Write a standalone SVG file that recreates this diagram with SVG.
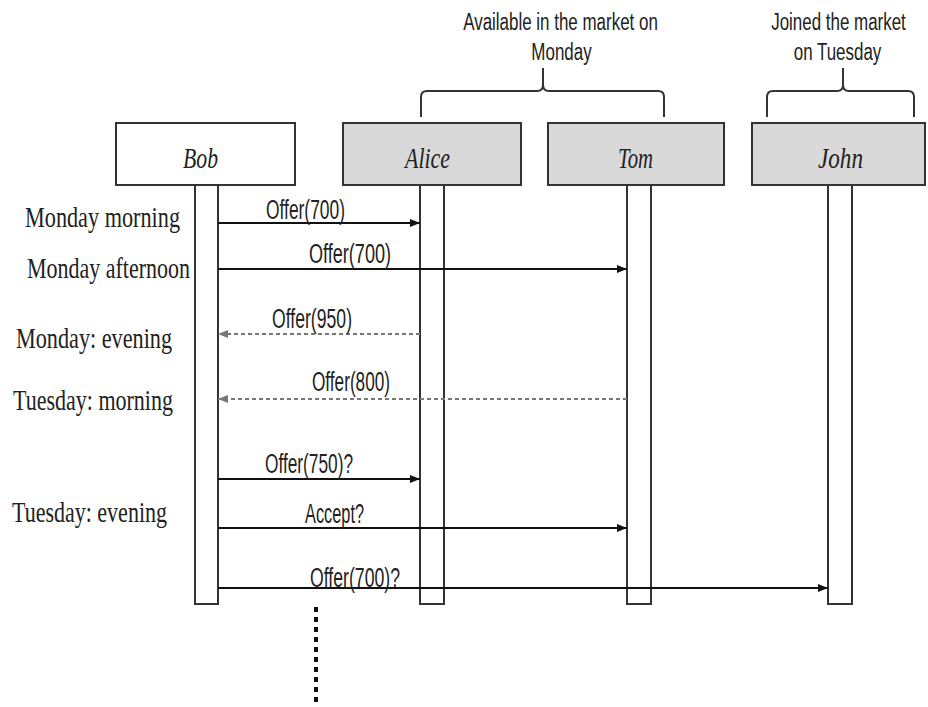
<svg xmlns="http://www.w3.org/2000/svg" width="928" height="707" viewBox="0 0 928 707">
<style>
.box{stroke:#333;stroke-width:2}
.white{fill:#fff}
.gray{fill:#d9d9d9}
.life{fill:#fff;stroke:#333;stroke-width:2}
.name{font-family:"Liberation Serif",serif;font-style:italic;font-size:29px;fill:#222}
.time{font-family:"Liberation Serif",serif;font-size:29px;fill:#222}
.msg{font-family:"Liberation Sans Narrow","Liberation Sans",sans-serif;font-size:27px;fill:#222}
.title{font-family:"Liberation Sans",sans-serif;font-size:23px;fill:#222;text-anchor:middle}
.brace{fill:none;stroke:#333;stroke-width:2}
.solid{fill:none;stroke:#111;stroke-width:2;marker-end:url(#ah)}
.dash{fill:none;stroke:#777;stroke-width:2;stroke-dasharray:4 3;marker-end:url(#ahg)}
</style>
<defs>
<marker id="ah" markerUnits="userSpaceOnUse" markerWidth="10" markerHeight="8" refX="10" refY="4" orient="auto"><path d="M0,0 L10,4 L0,8 z" fill="#111"/></marker>
<marker id="ahg" markerUnits="userSpaceOnUse" markerWidth="10" markerHeight="8" refX="10" refY="4" orient="auto"><path d="M0,0 L10,4 L0,8 z" fill="#777"/></marker>
</defs>
<rect width="928" height="707" fill="#fff"/>

<g id="group-monday">
<path class="brace" d="M421,117 V97 Q421,91 427,91 H537 Q543,91 543,85 V68 M543,85 Q543,91 549,91 H658 Q664,91 664,97 V117"/>
<text class="title" transform="translate(560.5,30) scale(0.737,1)">Available in the market on</text>
<text class="title" transform="translate(561.5,60) scale(0.737,1)">Monday</text>
</g>
<g id="group-tuesday">
<path class="brace" d="M767,117 V97 Q767,91 773,91 H837 Q843,91 843,85 V68 M843,85 Q843,91 849,91 H908 Q914,91 914,97 V117"/>
<text class="title" transform="translate(838.5,30) scale(0.737,1)">Joined the market</text>
<text class="title" transform="translate(837.5,60) scale(0.737,1)">on Tuesday</text>
</g>

<g id="bob">
<rect class="box white" x="116" y="123" width="179" height="62"/>
<text class="name" x="183" y="168" textLength="35" lengthAdjust="spacingAndGlyphs">Bob</text>
<rect class="life" x="195" y="185" width="23" height="419"/>
</g>
<g id="alice">
<rect class="box gray" x="343" y="123" width="178" height="62"/>
<text class="name" x="405" y="168" textLength="45" lengthAdjust="spacingAndGlyphs">Alice</text>
<rect class="life" x="420" y="185" width="24" height="419"/>
</g>
<g id="tom">
<rect class="box gray" x="548" y="123" width="176" height="62"/>
<text class="name" x="618" y="168" textLength="35" lengthAdjust="spacingAndGlyphs">Tom</text>
<rect class="life" x="627" y="185" width="24" height="419"/>
</g>
<g id="john">
<rect class="box gray" x="752" y="123" width="173" height="62"/>
<text class="name" x="818" y="168" textLength="45" lengthAdjust="spacingAndGlyphs">John</text>
<rect class="life" x="828" y="185" width="24" height="419"/>
</g>

<g id="times">
<text class="time" x="25" y="227" textLength="155" lengthAdjust="spacingAndGlyphs">Monday morning</text>
<text class="time" x="27" y="278" textLength="163" lengthAdjust="spacingAndGlyphs">Monday afternoon</text>
<text class="time" x="16" y="348" textLength="156" lengthAdjust="spacingAndGlyphs">Monday: evening</text>
<text class="time" x="13" y="410" textLength="160" lengthAdjust="spacingAndGlyphs">Tuesday: morning</text>
<text class="time" x="12" y="522" textLength="155" lengthAdjust="spacingAndGlyphs">Tuesday: evening</text>
</g>

<g id="connectors">
<line class="solid" x1="218" y1="223" x2="420" y2="223"/>
<line class="solid" x1="218" y1="269" x2="627" y2="269"/>
<line class="dash" x1="420" y1="334" x2="218" y2="334"/>
<line class="dash" x1="627" y1="399" x2="218" y2="399"/>
<line class="solid" x1="218" y1="479" x2="420" y2="479"/>
<line class="solid" x1="218" y1="528" x2="627" y2="528"/>
<line class="solid" x1="218" y1="588" x2="828" y2="588"/>
<line x1="316" y1="607" x2="316" y2="707" stroke="#111" stroke-width="4" stroke-dasharray="5 5"/>
</g>

<g id="labels">
<text class="msg" x="266" y="219" textLength="79" lengthAdjust="spacingAndGlyphs">Offer(700)</text>
<text class="msg" x="309" y="263" textLength="82" lengthAdjust="spacingAndGlyphs">Offer(700)</text>
<text class="msg" x="272" y="328" textLength="80" lengthAdjust="spacingAndGlyphs">Offer(950)</text>
<text class="msg" x="312" y="391" textLength="78" lengthAdjust="spacingAndGlyphs">Offer(800)</text>
<text class="msg" x="265" y="473" textLength="88" lengthAdjust="spacingAndGlyphs">Offer(750)?</text>
<text class="msg" x="305" y="523" textLength="59" lengthAdjust="spacingAndGlyphs">Accept?</text>
<text class="msg" x="310" y="587" textLength="90" lengthAdjust="spacingAndGlyphs">Offer(700)?</text>
</g>
</svg>
